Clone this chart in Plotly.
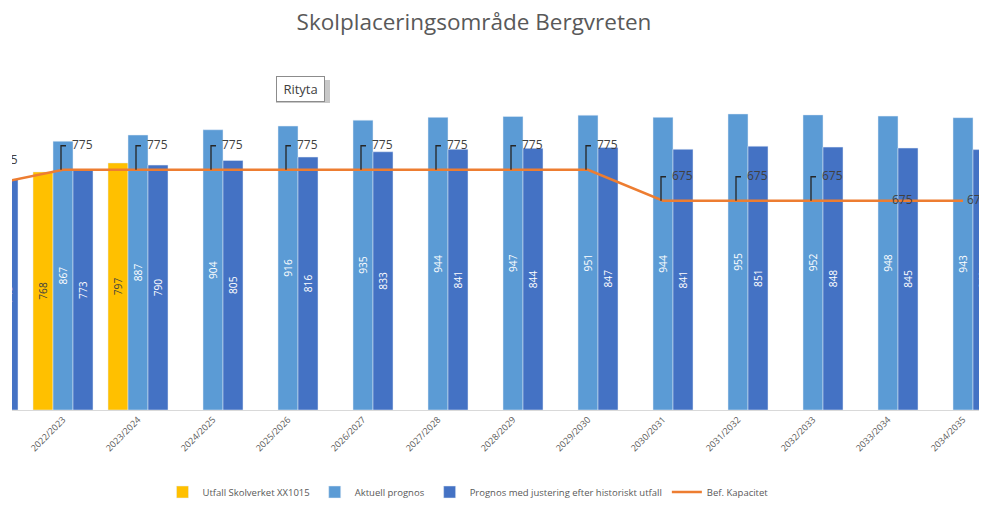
import plotly.graph_objects as go

# ---- data ----
categories = ["2021/2022", "2022/2023", "2023/2024", "2024/2025", "2025/2026", "2026/2027",
              "2027/2028", "2028/2029", "2029/2030", "2030/2031", "2031/2032", "2032/2033",
              "2033/2034", "2034/2035"]
utfall = [None, 768, 797, None, None, None, None, None, None, None, None, None, None, None]
aktuell = [None, 867, 887, 904, 916, 935, 944, 947, 951, 944, 955, 952, 948, 943]
justerad = [745, 773, 790, 805, 816, 833, 841, 844, 847, 841, 851, 848, 845, 840]
kapacitet = [725, 775, 775, 775, 775, 775, 775, 775, 775, 675, 675, 675, 675, 675]
# which capacity labels use a leader line (Excel callout)
callout = [True, True, True, True, True, True, True, True, True, True, True, True, False, False]

idx = list(range(len(categories)))

C_YEL = "#FFC000"
C_LB = "#5B9BD5"
C_DB = "#4472C4"
C_OR = "#ED7D31"
TXT = "#595959"
FONT = "Open Sans"

# page has an 8px body margin; figure origin sits at (8, 8) in the window
OFF = 8
W, H = 987, 509
PLOT_L, PLOT_R, PLOT_T, PLOT_B = 12, 987, 100, 410  # window pixels

fig = go.Figure()
fig.add_trace(go.Bar(
    x=idx, y=utfall, name="Utfall Skolverket XX1015", marker_color=C_YEL,
    text=[str(v) if v is not None else "" for v in utfall], textposition="inside",
    textangle=-90, insidetextanchor="middle",
    insidetextfont=dict(color="#404040", size=11, family=FONT), cliponaxis=True))
fig.add_trace(go.Bar(
    x=idx, y=aktuell, name="Aktuell prognos", marker_color=C_LB,
    text=[str(v) if v is not None else "" for v in aktuell], textposition="inside",
    textangle=-90, insidetextanchor="middle",
    insidetextfont=dict(color="white", size=11, family=FONT), cliponaxis=True))
fig.add_trace(go.Bar(
    x=idx, y=justerad, name="Prognos med justering efter historiskt utfall", marker_color=C_DB,
    text=[str(v) for v in justerad], textposition="inside",
    textangle=-90, insidetextanchor="middle",
    insidetextfont=dict(color="white", size=11, family=FONT), cliponaxis=True))
fig.add_trace(go.Scatter(
    x=idx, y=kapacitet, name="Bef. Kapacitet", mode="lines",
    line=dict(color=C_OR, width=2.5), cliponaxis=True))

# capacity data labels (clipped to plot area like the reference)
px_per_x = 75.0
px_per_y = 0.31
lab_x = [i + (9 if c else 4) / px_per_x for i, c in zip(idx, callout)]
lab_y = [v + (24 if c else 0) / px_per_y for v, c in zip(kapacitet, callout)]
fig.add_trace(go.Scatter(
    x=lab_x, y=lab_y, mode="text", text=[str(v) for v in kapacitet],
    textposition="middle right", textfont=dict(color="#404040", size=12, family=FONT),
    showlegend=False, hoverinfo="skip", cliponaxis=True))

shapes = []
for i, v, c in zip(idx, kapacitet, callout):
    if c and i > 0:
        shapes.append(dict(type="path", xref="x", yref="y", xsizemode="pixel", ysizemode="pixel",
                           xanchor=i, yanchor=v, path="M-2,0 L-2,24 L3,24",
                           line=dict(color="#262626", width=1.3)))

plot_w = PLOT_R - PLOT_L
plot_h = PLOT_B - PLOT_T
ml = PLOT_L - OFF
mt = PLOT_T - OFF
mr = W - ml - plot_w
mb = H - mt - plot_h

# "Rityta" tooltip box with a soft drop shadow
tip_x = (300 - PLOT_L) / plot_w
tip_y = (PLOT_B - 89) / plot_h
shapes.append(dict(type="rect", xref="paper", yref="paper", xsizemode="pixel", ysizemode="pixel",
                   xanchor=tip_x, yanchor=tip_y, x0=-24, x1=30, y0=-14, y1=9,
                   fillcolor="#c8c8c8", line=dict(width=0), layer="above"))

fig.update_layout(
    width=W, height=H,
    margin=dict(l=ml, r=mr, t=mt, b=mb),
    paper_bgcolor="white", plot_bgcolor="white",
    barmode="group", bargap=0.2, bargroupgap=0,
    title=dict(text="Skolplaceringsområde Bergvreten", x=(474 - OFF) / W, xanchor="center",
               y=1 - (22 - OFF) / H, yanchor="middle",
               font=dict(family=FONT, size=22.5, color=TXT)),
    font=dict(family=FONT, color=TXT),
    xaxis=dict(range=[0.32, 13.32], tickmode="array", tickvals=idx, ticktext=categories,
               tickangle=-45, tickfont=dict(size=9, color=TXT, family=FONT),
               showline=True, linecolor="#D9D9D9", linewidth=1, showgrid=False,
               zeroline=False, ticks=""),
    yaxis=dict(range=[0, 1000], visible=False, showgrid=False, zeroline=False),
    legend=dict(orientation="h", x=(468 - PLOT_L) / plot_w, xanchor="center",
                y=-(492 - PLOT_B) / plot_h, yanchor="middle",
                font=dict(size=9.5, color=TXT, family=FONT), traceorder="normal",
                itemwidth=30),
    shapes=shapes,
    annotations=[dict(text="\u00a0Rityta\u00a0", xref="paper", yref="paper", xanchor="center",
                      yanchor="middle", x=tip_x, y=tip_y, showarrow=False,
                      font=dict(size=13, color="#404040", family=FONT),
                      bgcolor="white", bordercolor="#8c8c8c", borderwidth=1, borderpad=3)],
    showlegend=True,
)

fig.write_html("out.html")
